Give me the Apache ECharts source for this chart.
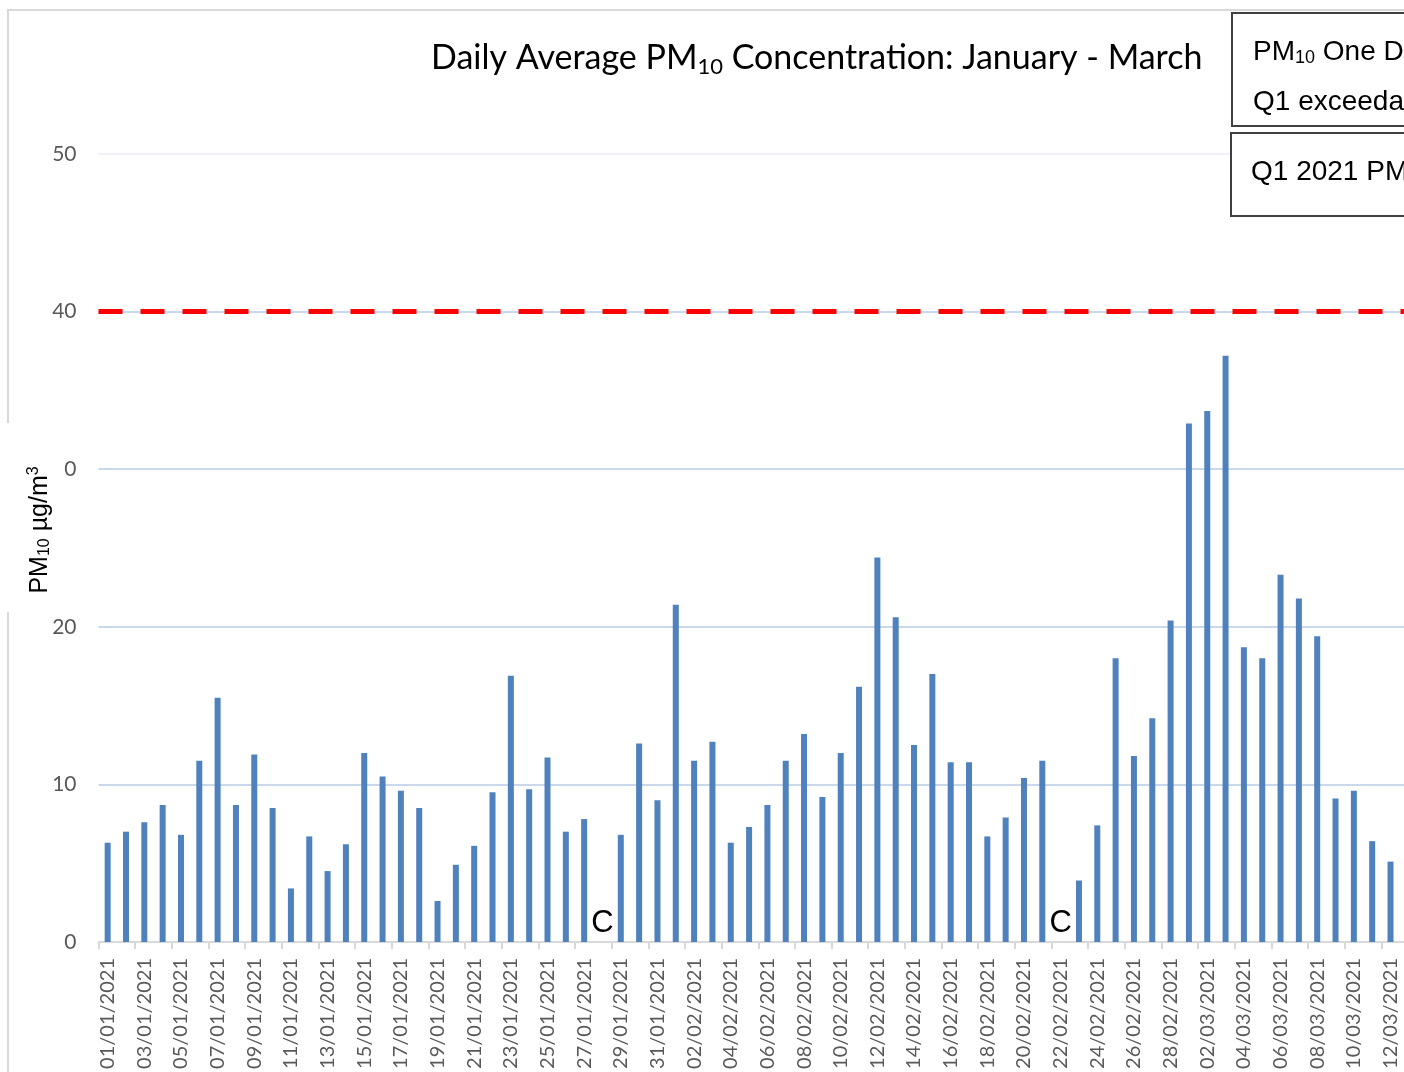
<!DOCTYPE html>
<html>
<head>
<meta charset="utf-8">
<script src="https://cdn.jsdelivr.net/npm/echarts@6/dist/echarts.min.js"></script>
<style>
  html, body { margin: 0; padding: 0; background: #fff; }
  #chart { width: 1404px; height: 1072px; }
</style>
</head>
<body>
<div id="chart"></div>
<script>
  // 日期（x 轴类目）
  const days = [
    '01/01/2021', '02/01/2021', '03/01/2021', '04/01/2021', '05/01/2021', '06/01/2021', '07/01/2021', '08/01/2021',
    '09/01/2021', '10/01/2021', '11/01/2021', '12/01/2021', '13/01/2021', '14/01/2021', '15/01/2021', '16/01/2021',
    '17/01/2021', '18/01/2021', '19/01/2021', '20/01/2021', '21/01/2021', '22/01/2021', '23/01/2021', '24/01/2021',
    '25/01/2021', '26/01/2021', '27/01/2021', '28/01/2021', '29/01/2021', '30/01/2021', '31/01/2021',
    '01/02/2021', '02/02/2021', '03/02/2021', '04/02/2021', '05/02/2021', '06/02/2021', '07/02/2021', '08/02/2021',
    '09/02/2021', '10/02/2021', '11/02/2021', '12/02/2021', '13/02/2021', '14/02/2021', '15/02/2021', '16/02/2021',
    '17/02/2021', '18/02/2021', '19/02/2021', '20/02/2021', '21/02/2021', '22/02/2021', '23/02/2021', '24/02/2021',
    '25/02/2021', '26/02/2021', '27/02/2021', '28/02/2021',
    '01/03/2021', '02/03/2021', '03/03/2021', '04/03/2021', '05/03/2021', '06/03/2021', '07/03/2021', '08/03/2021',
    '09/03/2021', '10/03/2021', '11/03/2021', '12/03/2021', '13/03/2021'
  ];

  // 日均 PM10 (µg/m3)，null = 无数据
  const pm10 = [
    6.3, 7.0, 7.6, 8.7, 6.8, 11.5, 15.5, 8.7,
    11.9, 8.5, 3.4, 6.7, 4.5, 6.2, 12.0, 10.5,
    9.6, 8.5, 2.6, 4.9, 6.1, 9.5, 16.9, 9.7,
    11.7, 7.0, 7.8, null, 6.8, 12.6, 9.0,
    21.4, 11.5, 12.7, 6.3, 7.3, 8.7, 11.5, 13.2,
    9.2, 12.0, 16.2, 24.4, 20.6, 12.5, 17.0, 11.4,
    11.4, 6.7, 7.9, 10.4, 11.5, null, 3.9, 7.4,
    18.0, 11.8, 14.2, 20.4,
    32.9, 33.7, 37.2, 18.7, 18.0, 23.3, 21.8, 19.4,
    9.1, 9.6, 6.4, 5.1
  ];

  // 标记为 "C" 的缺测日期
  const missingDays = ['28/01/2021', '22/02/2021'];

  // 阈值线
  const threshold = 40;

  // y 轴刻度
  const yMin = 0;
  const yMax = 50;
  const yStep = 10;

  const myChart = echarts.init(document.getElementById('chart'));

  const option = {
    backgroundColor: '#ffffff',
    animation: false,
    title: {
      text: '{a|Daily Average PM}{s|10}{a| Concentration: January - March}',
      left: 431,
      top: 39,
      padding: 0,
      textStyle: {
        fontWeight: 'normal',
        rich: {
          a: { fontFamily: 'Lato', fontSize: 34, fontWeight: 'normal', color: '#000000' },
          s: { fontFamily: 'Lato', fontSize: 22, fontWeight: 'normal', color: '#000000', padding: [17, 0, 0, 0] }
        }
      }
    },
    grid: {
      left: 98.5,
      right: -14,
      top: 154,
      bottom: 130,
      containLabel: false,
      outerBoundsMode: 'none'
    },
    xAxis: {
      type: 'category',
      data: days,
      boundaryGap: true,
      axisLine: { show: true, lineStyle: { color: '#d9d9d9', width: 2 } },
      axisTick: {
        show: true,
        interval: 1,
        alignWithLabel: false,
        length: 7,
        lineStyle: { color: '#d9d9d9', width: 2 }
      },
      axisLabel: {
        interval: 1,
        rotate: 90,
        margin: 16,
        hideOverlap: false,
        color: '#595959',
        fontFamily: 'Lato',
        fontSize: 20
      },
      splitLine: { show: false }
    },
    yAxis: {
      type: 'value',
      min: yMin,
      max: yMax,
      interval: yStep,
      axisLine: { show: false },
      axisTick: { show: false },
      axisLabel: {
        margin: 22,
        color: '#595959',
        fontFamily: 'Lato',
        fontSize: 21
      },
      splitLine: {
        show: true,
        lineStyle: {
          // 50 那条线颜色更浅
          color: ['#cad8ec', '#cad8ec', '#cad8ec', '#cad8ec', '#cad8ec', '#eef2f8'],
          width: 2
        }
      }
    },
    series: [{
      name: 'PM10',
      type: 'bar',
      barWidth: 6,
      itemStyle: { color: '#4f81bd' },
      data: pm10,
      markLine: {
        silent: true,
        symbol: 'none',
        label: { show: false },
        lineStyle: { color: '#ff0000', width: 5, type: [24, 18] },
        data: [{ yAxis: threshold }]
      }
    }, {
      name: 'C',
      type: 'scatter',
      symbolSize: 1,
      itemStyle: { color: 'rgba(0,0,0,0)' },
      label: {
        show: true,
        position: 'top',
        distance: 3,
        formatter: 'C',
        color: '#000000',
        opacity: 1,
        fontFamily: 'Liberation Sans',
        fontSize: 31
      },
      data: missingDays.map(d => [d, 0])
    }],
    graphic: [
      // 图表区外框
      {
        type: 'rect', z: -10, silent: true,
        shape: { x: 8, y: 10, width: 1600, height: 1200 },
        style: { fill: 'none', stroke: '#d9d9d9', lineWidth: 2 }
      },
      // y 轴标题的白底
      {
        type: 'rect', z: 20, silent: true,
        shape: { x: 5, y: 423, width: 59, height: 189 },
        style: { fill: '#ffffff' }
      },
      {
        type: 'text', z: 21, silent: true,
        x: 40, y: 530, rotation: Math.PI / 2,
        style: {
          text: '{a|PM}{s|10}{a| µg/m}{p|3}',
          align: 'center',
          verticalAlign: 'middle',
          rich: {
            a: { fontFamily: 'Liberation Sans', fontSize: 25, fill: '#000000' },
            s: { fontFamily: 'Liberation Sans', fontSize: 16, fill: '#000000', padding: [10, 0, 0, 0] },
            p: { fontFamily: 'Liberation Sans', fontSize: 16, fill: '#000000', padding: [0, 0, 12, 0] }
          }
        }
      },
      // 右上角两个文本框
      {
        type: 'rect', z: 20, silent: true,
        shape: { x: 1232, y: 13, width: 300, height: 113 },
        style: { fill: '#ffffff', stroke: '#404040', lineWidth: 2 }
      },
      {
        type: 'text', z: 21, silent: true,
        x: 1253, y: 52,
        style: {
          text: '{a|PM}{s|10}{a| One Day}',
          align: 'left',
          verticalAlign: 'middle',
          rich: {
            a: { fontFamily: 'Liberation Sans', fontSize: 28, fill: '#000000' },
            s: { fontFamily: 'Liberation Sans', fontSize: 18, fill: '#000000', padding: [13, 0, 0, 0] }
          }
        }
      },
      {
        type: 'text', z: 21, silent: true,
        x: 1253, y: 102,
        style: {
          text: 'Q1 exceedances',
          align: 'left',
          verticalAlign: 'middle',
          font: '28px "Liberation Sans"',
          fill: '#000000'
        }
      },
      {
        type: 'rect', z: 20, silent: true,
        shape: { x: 1231, y: 133, width: 300, height: 83 },
        style: { fill: '#ffffff', stroke: '#404040', lineWidth: 2 }
      },
      {
        type: 'text', z: 21, silent: true,
        x: 1251, y: 172,
        style: {
          text: 'Q1 2021 PM',
          align: 'left',
          verticalAlign: 'middle',
          font: '28px "Liberation Sans"',
          fill: '#000000'
        }
      }
    ]
  };

  myChart.setOption(option);
</script>
</body>
</html>
